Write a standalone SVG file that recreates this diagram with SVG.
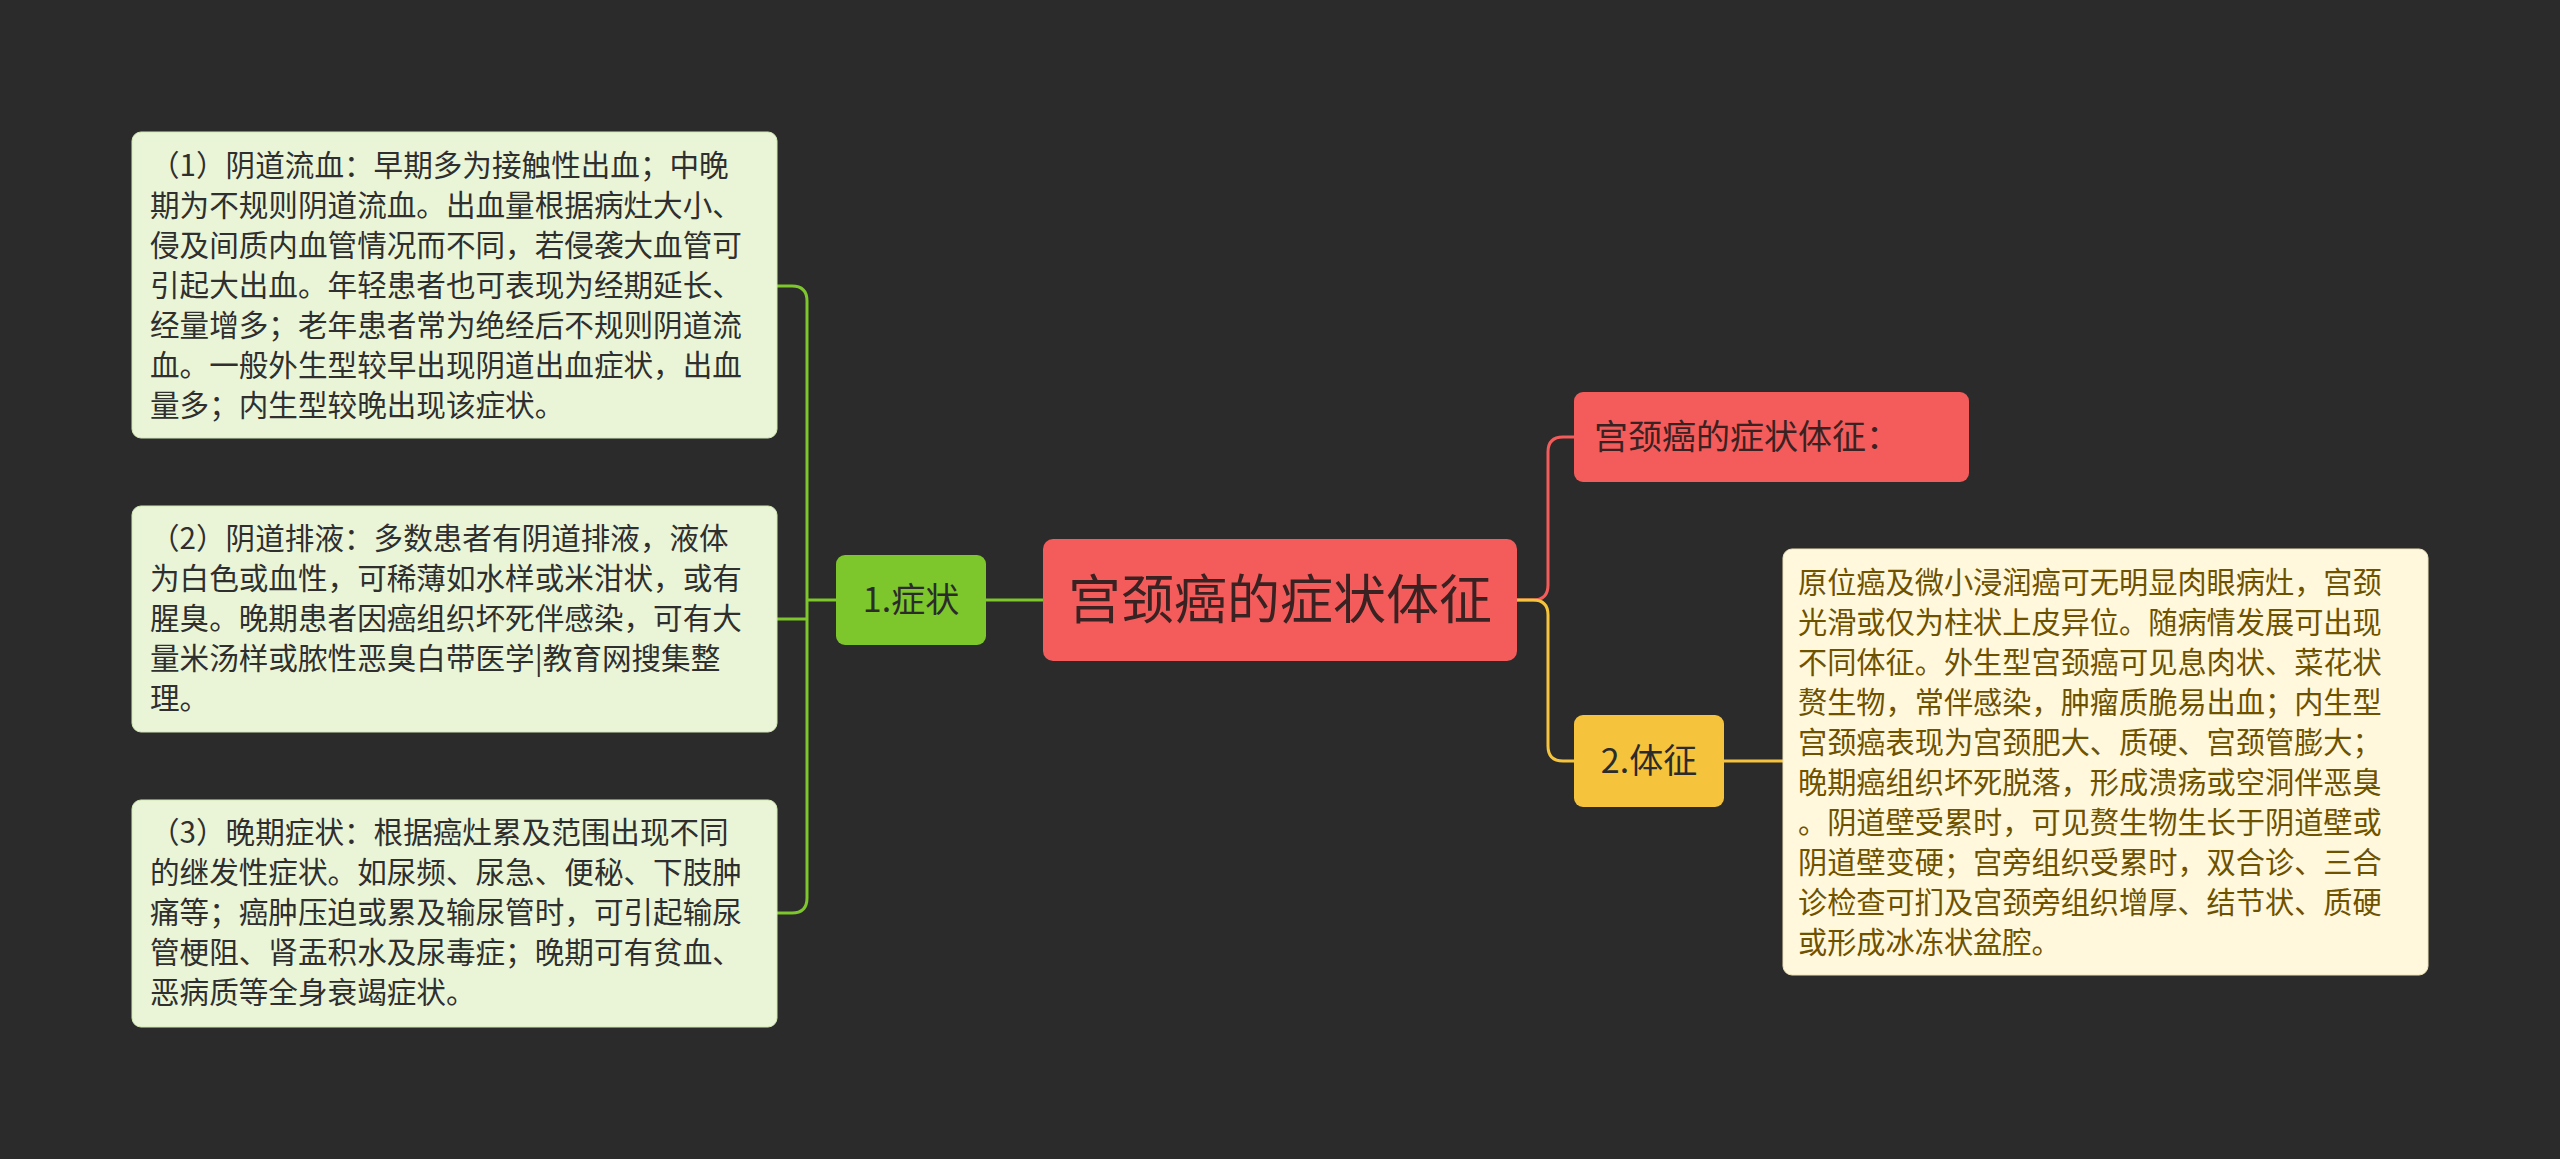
<svg xmlns="http://www.w3.org/2000/svg" width="2560" height="1159" viewBox="0 0 2560 1159">
<style>
text{font-family:"Noto Sans CJK SC","Noto Sans",sans-serif}
.lb{fill:#eaf5d8;stroke:#d2e8b4;stroke-width:1}
.lt{font-size:29.6px;fill:#2f2f2f}
.rt{font-size:29.2px;fill:#6e5200}
.c{fill:none;stroke-width:3}
</style>
<rect width="2560" height="1159" fill="#2b2b2b"/>
<g id="connectors">
<path class="c" stroke="#f45b5b" d="M1517 600 H1533 Q1548 600 1548 585 V452 Q1548 437 1563 437 H1574"/>
<path class="c" stroke="#f5c43c" d="M1517 600 H1533 Q1548 600 1548 615 V746 Q1548 761 1563 761 H1574"/>
<path class="c" stroke="#f5c43c" d="M1724 761 H1783"/>
<path class="c" stroke="#7dc62b" d="M1043 600 H986"/>
<path class="c" stroke="#7dc62b" d="M836 600 H807 M777 286 H792 Q807 286 807 301 V898 Q807 913 792 913 H777 M777 619 H807"/>
</g>
<g id="root"><rect x="1043" y="539" width="474" height="122" rx="10" fill="#f45b5b"/><text x="1280" y="619" font-size="53" text-anchor="middle" fill="#3a2222">宫颈癌的症状体征</text></g>
<g id="n-zz"><rect x="836" y="555" width="150" height="90" rx="9" fill="#7dc62b"/><text x="911" y="612" font-size="34" text-anchor="middle" fill="#2b2b2b">1.症状</text></g>
<g id="n-title"><rect x="1574" y="392" width="395" height="90" rx="9" fill="#f45b5b"/><text x="1594" y="449" font-size="34" fill="#3a2222">宫颈癌的症状体征：</text></g>
<g id="n-tz"><rect x="1574" y="715" width="150" height="92" rx="9" fill="#f5c43c"/><text x="1649" y="773" font-size="34" text-anchor="middle" fill="#2b2b2b">2.体征</text></g>
<g id="b1"><rect class="lb" x="132" y="132" width="645" height="306" rx="9"/><text class="lt" x="150" y="176"><tspan>（1）阴道流血：早期多为接触性出血；中晚</tspan><tspan x="150" dy="40">期为不规则阴道流血。出血量根据病灶大小、</tspan><tspan x="150" dy="40">侵及间质内血管情况而不同，若侵袭大血管可</tspan><tspan x="150" dy="40">引起大出血。年轻患者也可表现为经期延长、</tspan><tspan x="150" dy="40">经量增多；老年患者常为绝经后不规则阴道流</tspan><tspan x="150" dy="40">血。一般外生型较早出现阴道出血症状，出血</tspan><tspan x="150" dy="40">量多；内生型较晚出现该症状。</tspan></text></g>
<g id="b2"><rect class="lb" x="132" y="506" width="645" height="226" rx="9"/><text class="lt" x="150" y="549"><tspan>（2）阴道排液：多数患者有阴道排液，液体</tspan><tspan x="150" dy="40">为白色或血性，可稀薄如水样或米泔状，或有</tspan><tspan x="150" dy="40">腥臭。晚期患者因癌组织坏死伴感染，可有大</tspan><tspan x="150" dy="40">量米汤样或脓性恶臭白带医学|教育网搜集整</tspan><tspan x="150" dy="40">理。</tspan></text></g>
<g id="b3"><rect class="lb" x="132" y="800" width="645" height="227" rx="9"/><text class="lt" x="150" y="843"><tspan>（3）晚期症状：根据癌灶累及范围出现不同</tspan><tspan x="150" dy="40">的继发性症状。如尿频、尿急、便秘、下肢肿</tspan><tspan x="150" dy="40">痛等；癌肿压迫或累及输尿管时，可引起输尿</tspan><tspan x="150" dy="40">管梗阻、肾盂积水及尿毒症；晚期可有贫血、</tspan><tspan x="150" dy="40">恶病质等全身衰竭症状。</tspan></text></g>
<g id="b4"><rect x="1783" y="549" width="645" height="426" rx="9" fill="#fff8dc" stroke="#efe3b8"/><text class="rt" x="1798" y="593"><tspan>原位癌及微小浸润癌可无明显肉眼病灶，宫颈</tspan><tspan x="1798" dy="40">光滑或仅为柱状上皮异位。随病情发展可出现</tspan><tspan x="1798" dy="40">不同体征。外生型宫颈癌可见息肉状、菜花状</tspan><tspan x="1798" dy="40">赘生物，常伴感染，肿瘤质脆易出血；内生型</tspan><tspan x="1798" dy="40">宫颈癌表现为宫颈肥大、质硬、宫颈管膨大；</tspan><tspan x="1798" dy="40">晚期癌组织坏死脱落，形成溃疡或空洞伴恶臭</tspan><tspan x="1798" dy="40">。阴道壁受累时，可见赘生物生长于阴道壁或</tspan><tspan x="1798" dy="40">阴道壁变硬；宫旁组织受累时，双合诊、三合</tspan><tspan x="1798" dy="40">诊检查可扪及宫颈旁组织增厚、结节状、质硬</tspan><tspan x="1798" dy="40">或形成冰冻状盆腔。</tspan></text></g>
</svg>
